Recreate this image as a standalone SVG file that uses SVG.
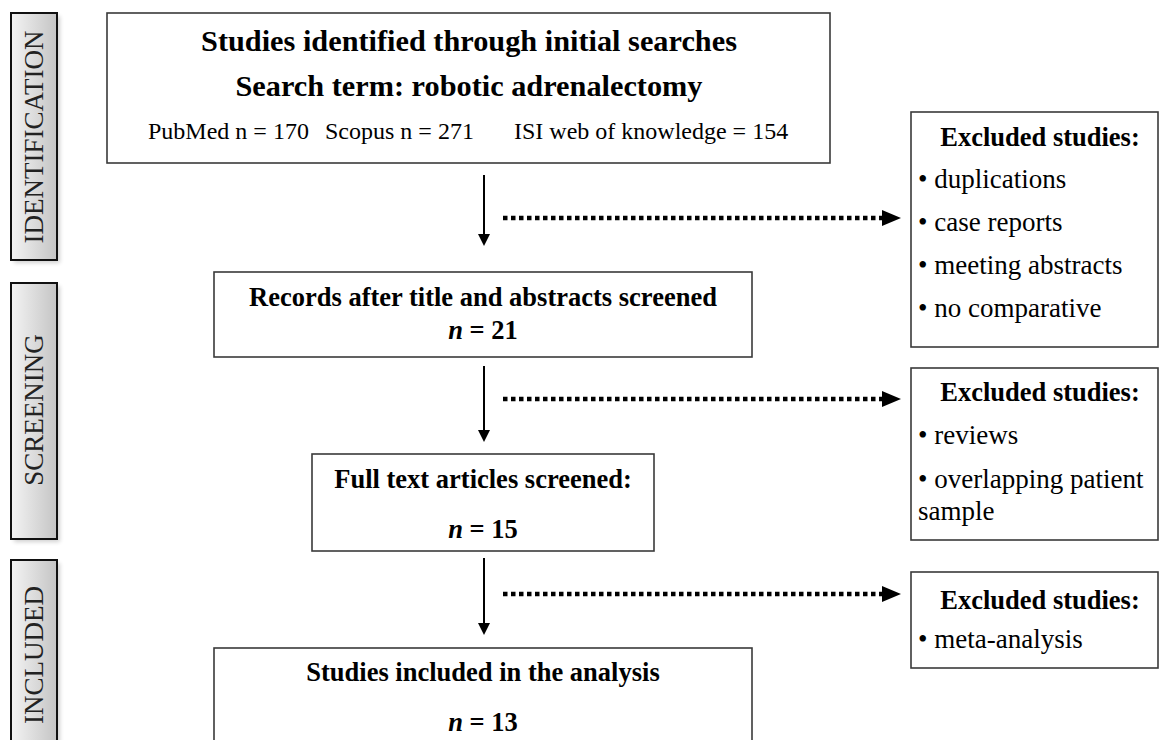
<svg xmlns="http://www.w3.org/2000/svg" width="1159" height="740" viewBox="0 0 1159 740">
<style>
.box{fill:#fff;stroke:#3a3a3a;stroke-width:1.6}
.bar{fill:url(#barGrad);stroke:#111;stroke-width:2}
.shadow{fill:#000;opacity:0.18}
.bt{font-family:"Liberation Serif","Times New Roman",serif;font-weight:bold;fill:#000;text-anchor:middle}
.rt{font-family:"Liberation Serif","Times New Roman",serif;fill:#000}
.side{font-family:"Liberation Serif","Times New Roman",serif;font-size:27px;fill:#222;text-anchor:middle}
.solid{stroke:#000;stroke-width:2;fill:none}
.dot{stroke:#000;stroke-width:4.5;stroke-dasharray:4.5 3.5;fill:none}
</style>
<defs>
<linearGradient id="barGrad" x1="0" y1="0" x2="1" y2="0">
<stop offset="0" stop-color="#f4f4f4"/>
<stop offset="1" stop-color="#c4c4c4"/>
</linearGradient>
<filter id="blur" x="-20%" y="-20%" width="140%" height="140%"><feGaussianBlur stdDeviation="2"/></filter>
</defs>
<rect width="1159" height="740" fill="#fff"/>

<g id="bar-identification">
<rect class="shadow" x="14" y="16" width="46" height="247" filter="url(#blur)"/>
<rect class="bar" x="11" y="13" width="46" height="247"/>
<text class="side" transform="translate(43,137) rotate(-90)">IDENTIFICATION</text>
</g>
<g id="bar-screening">
<rect class="shadow" x="14" y="286" width="46" height="256" filter="url(#blur)"/>
<rect class="bar" x="11" y="283" width="46" height="256"/>
<text class="side" transform="translate(43,410) rotate(-90)">SCREENING</text>
</g>
<g id="bar-included">
<rect class="shadow" x="14" y="563" width="46" height="200" filter="url(#blur)"/>
<rect class="bar" x="11" y="560" width="46" height="200"/>
<text class="side" transform="translate(43,655) rotate(-90)">INCLUDED</text>
</g>

<g id="node-identified">
<rect class="box" x="107" y="13" width="723" height="150"/>
<text class="bt" x="469" y="51" font-size="30.3">Studies identified through initial searches</text>
<text class="bt" x="469" y="96" font-size="30.3">Search term: robotic adrenalectomy</text>
<text class="rt" x="148" y="139" font-size="24">PubMed n = 170</text>
<text class="rt" x="325" y="139" font-size="24">Scopus n = 271</text>
<text class="rt" x="514" y="139" font-size="24">ISI web of knowledge = 154</text>
</g>

<g id="node-records">
<rect class="box" x="214" y="272" width="538" height="85"/>
<text class="bt" x="483" y="306" font-size="26.5">Records after title and abstracts screened</text>
<text class="bt" x="483" y="339" font-size="26.5"><tspan font-style="italic">n</tspan> = 21</text>
</g>

<g id="node-fulltext">
<rect class="box" x="312" y="454" width="342" height="97"/>
<text class="bt" x="483" y="488" font-size="26.5">Full text articles screened:</text>
<text class="bt" x="483" y="538" font-size="26.5"><tspan font-style="italic">n</tspan> = 15</text>
</g>

<g id="node-included">
<rect class="box" x="214" y="648" width="538" height="100"/>
<text class="bt" x="483" y="681" font-size="26.5">Studies included in the analysis</text>
<text class="bt" x="483" y="731" font-size="26.5"><tspan font-style="italic">n</tspan> = 13</text>
</g>

<g id="node-excluded-1">
<rect class="box" x="911" y="112" width="247" height="235"/>
<text class="bt" x="1040" y="146" font-size="26.5">Excluded studies:</text>
<text class="rt" x="918" y="188" font-size="27">• duplications</text>
<text class="rt" x="918" y="231" font-size="27">• case reports</text>
<text class="rt" x="918" y="274" font-size="27">• meeting abstracts</text>
<text class="rt" x="918" y="317" font-size="27">• no comparative</text>
</g>

<g id="node-excluded-2">
<rect class="box" x="911" y="368" width="247" height="172"/>
<text class="bt" x="1040" y="401" font-size="26.5">Excluded studies:</text>
<text class="rt" x="918" y="444" font-size="27">• reviews</text>
<text class="rt" x="918" y="488" font-size="27">• overlapping patient</text>
<text class="rt" x="918" y="520" font-size="27">sample</text>
</g>

<g id="node-excluded-3">
<rect class="box" x="911" y="572" width="247" height="96"/>
<text class="bt" x="1040" y="609" font-size="26.5">Excluded studies:</text>
<text class="rt" x="918" y="648" font-size="27">• meta-analysis</text>
</g>

<g id="connectors">
<line class="solid" x1="484" y1="175" x2="484" y2="236"/>
<polygon points="478,234 490,234 484,246"/>
<line class="solid" x1="484" y1="366" x2="484" y2="432"/>
<polygon points="478,430 490,430 484,442"/>
<line class="solid" x1="484" y1="558" x2="484" y2="625"/>
<polygon points="478,623 490,623 484,635"/>
<line class="dot" x1="503" y1="218" x2="882" y2="218"/>
<polygon points="882,210 882,226 901,218"/>
<line class="dot" x1="503" y1="399" x2="882" y2="399"/>
<polygon points="882,391 882,407 901,399"/>
<line class="dot" x1="503" y1="594" x2="882" y2="594"/>
<polygon points="882,586 882,602 901,594"/>
</g>
</svg>
